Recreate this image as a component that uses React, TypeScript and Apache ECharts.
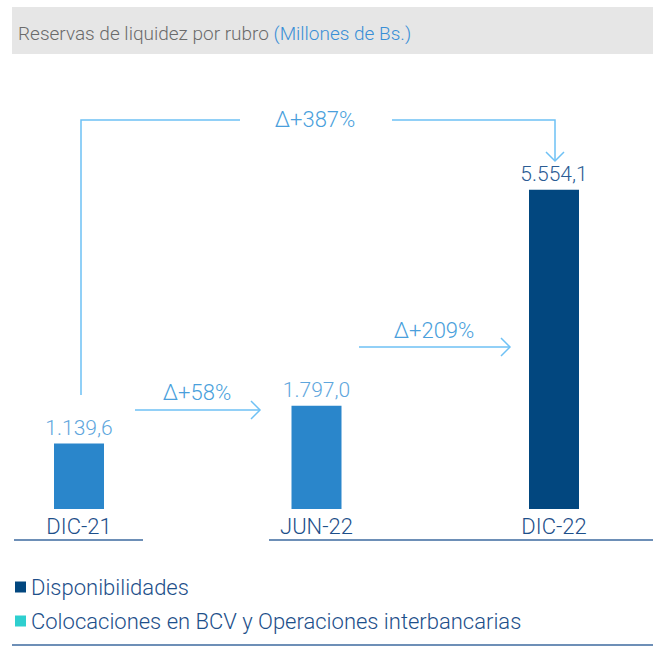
import React, { useEffect, useRef } from "react";
import * as echarts from "echarts";

const categories = ["DIC-21", "JUN-22", "DIC-22"];
const disponibilidades = [1139.6, 1797.0, 5554.1];
const colocaciones = [0, 0, 0];
const seriesNames = ["Disponibilidades", "Colocaciones en BCV y Operaciones interbancarias"];
const barColors = ["#2a86cb", "#2a86cb", "#02477f"];
const labelColors = ["#5ea6dd", "#5ea6dd", "#2b5c94"];
const deltaLabels = ["Δ+58%", "Δ+209%", "Δ+387%"];
const titleMain = "Reservas de liquidez por rubro ";
const titleUnit = "(Millones de Bs.)";

const FONT = "Roboto, 'Noto Sans', sans-serif";

function fmt(v: number): string {
  const [ip, dp] = v.toFixed(1).split(".");
  const withSep = ip.replace(/\B(?=(\d{3})+(?!\d))/g, ".");
  return withSep + "," + dp;
}

export default function App() {
  const ref = useRef<HTMLDivElement>(null);
  useEffect(() => {
    if (!ref.current) return;
    const chart = echarts.init(ref.current, undefined, { renderer: "svg" });
    const arrowColor = "#6ec1f5";
    const deltaColor = "#4a9fdc";
    const lineColor = "#3d6a9f";
    const deltaStyle = { fontSize: 22, fontWeight: 300, fill: deltaColor, fontFamily: FONT, textAlign: "center", textVerticalAlign: "middle" };
    const option: any = {
      animation: false,
      backgroundColor: "#ffffff",
      textStyle: { fontFamily: FONT },
      title: {
        left: 13,
        top: 19,
        text: "{a|" + titleMain + "}{b|" + titleUnit + "}",
        textStyle: {
          fontWeight: "normal",
          rich: {
            a: { fontSize: 19, color: "#6b6b6b", fontFamily: FONT, fontWeight: 300 },
            b: { fontSize: 19, color: "#3a8fd6", fontFamily: FONT, fontWeight: 300 },
          },
        },
      },
      legend: {
        orient: "vertical",
        left: 10,
        top: 571,
        itemWidth: 11,
        itemHeight: 11,
        itemGap: 12,
        icon: "rect",
        data: seriesNames,
        textStyle: { fontSize: 22, color: "#1d4f8a", fontFamily: FONT, fontWeight: 300 },
      },
      grid: { left: 79, right: 99, top: 164, bottom: 139 },
      xAxis: {
        type: "category",
        data: categories,
        boundaryGap: false,
        axisLine: { show: false },
        axisTick: { show: false },
        axisLabel: { fontSize: 22, color: "#1d4f8a", margin: 6, fontFamily: FONT, fontWeight: 300 },
      },
      yAxis: { type: "value", min: 0, max: 6000, show: false, splitLine: { show: false } },
      series: [
        {
          name: seriesNames[0],
          type: "bar",
          stack: "total",
          barWidth: 50,
          itemStyle: { color: "#02477f" },
          label: {
            show: true,
            position: "top",
            distance: 5,
            fontSize: 21,
            fontFamily: FONT,
            fontWeight: 300,
            formatter: (p: any) => fmt(p.value),
          },
          data: disponibilidades.map((v, i) => ({
            value: v,
            itemStyle: { color: barColors[i] },
            label: { color: labelColors[i] },
          })),
        },
        {
          name: seriesNames[1],
          type: "bar",
          stack: "total",
          barWidth: 50,
          itemStyle: { color: "#2ecfcf" },
          data: colocaciones,
        },
      ],
      graphic: [
        { type: "rect", z: -10, shape: { x: 12, y: 7, width: 641, height: 47 }, style: { fill: "#e6e6e6" } },
        { type: "line", shape: { x1: 14, y1: 540, x2: 143, y2: 540 }, style: { stroke: lineColor, lineWidth: 1.5 } },
        { type: "line", shape: { x1: 269, y1: 540, x2: 653, y2: 540 }, style: { stroke: lineColor, lineWidth: 1.5 } },
        { type: "line", shape: { x1: 12, y1: 645, x2: 653, y2: 645 }, style: { stroke: lineColor, lineWidth: 1.5 } },
        { type: "line", shape: { x1: 135, y1: 410, x2: 260, y2: 410 }, style: { stroke: arrowColor, lineWidth: 1.5 } },
        { type: "polyline", shape: { points: [[251, 401], [260, 410], [251, 419]] }, style: { stroke: arrowColor, lineWidth: 1.5, fill: "none" } },
        { type: "text", x: 197, y: 392, style: { ...deltaStyle, text: deltaLabels[0] } },
        { type: "line", shape: { x1: 359, y1: 347, x2: 510, y2: 347 }, style: { stroke: arrowColor, lineWidth: 1.5 } },
        { type: "polyline", shape: { points: [[501, 338], [510, 347], [501, 356]] }, style: { stroke: arrowColor, lineWidth: 1.5, fill: "none" } },
        { type: "text", x: 434, y: 330, style: { ...deltaStyle, text: deltaLabels[1] } },
        { type: "polyline", shape: { points: [[81, 395], [81, 120], [240, 120]] }, style: { stroke: arrowColor, lineWidth: 1.5, fill: "none" } },
        { type: "polyline", shape: { points: [[392, 120], [555, 120], [555, 161]] }, style: { stroke: arrowColor, lineWidth: 1.5, fill: "none" } },
        { type: "polyline", shape: { points: [[546, 152], [555, 161], [564, 152]] }, style: { stroke: arrowColor, lineWidth: 1.5, fill: "none" } },
        { type: "text", x: 315, y: 119, style: { ...deltaStyle, text: deltaLabels[2] } },
      ],
    };
    chart.setOption(option);
    return () => chart.dispose();
  }, []);
  return <div ref={ref} style={{ position: "absolute", left: 0, top: 0, width: 653, height: 648 }} />;
}
